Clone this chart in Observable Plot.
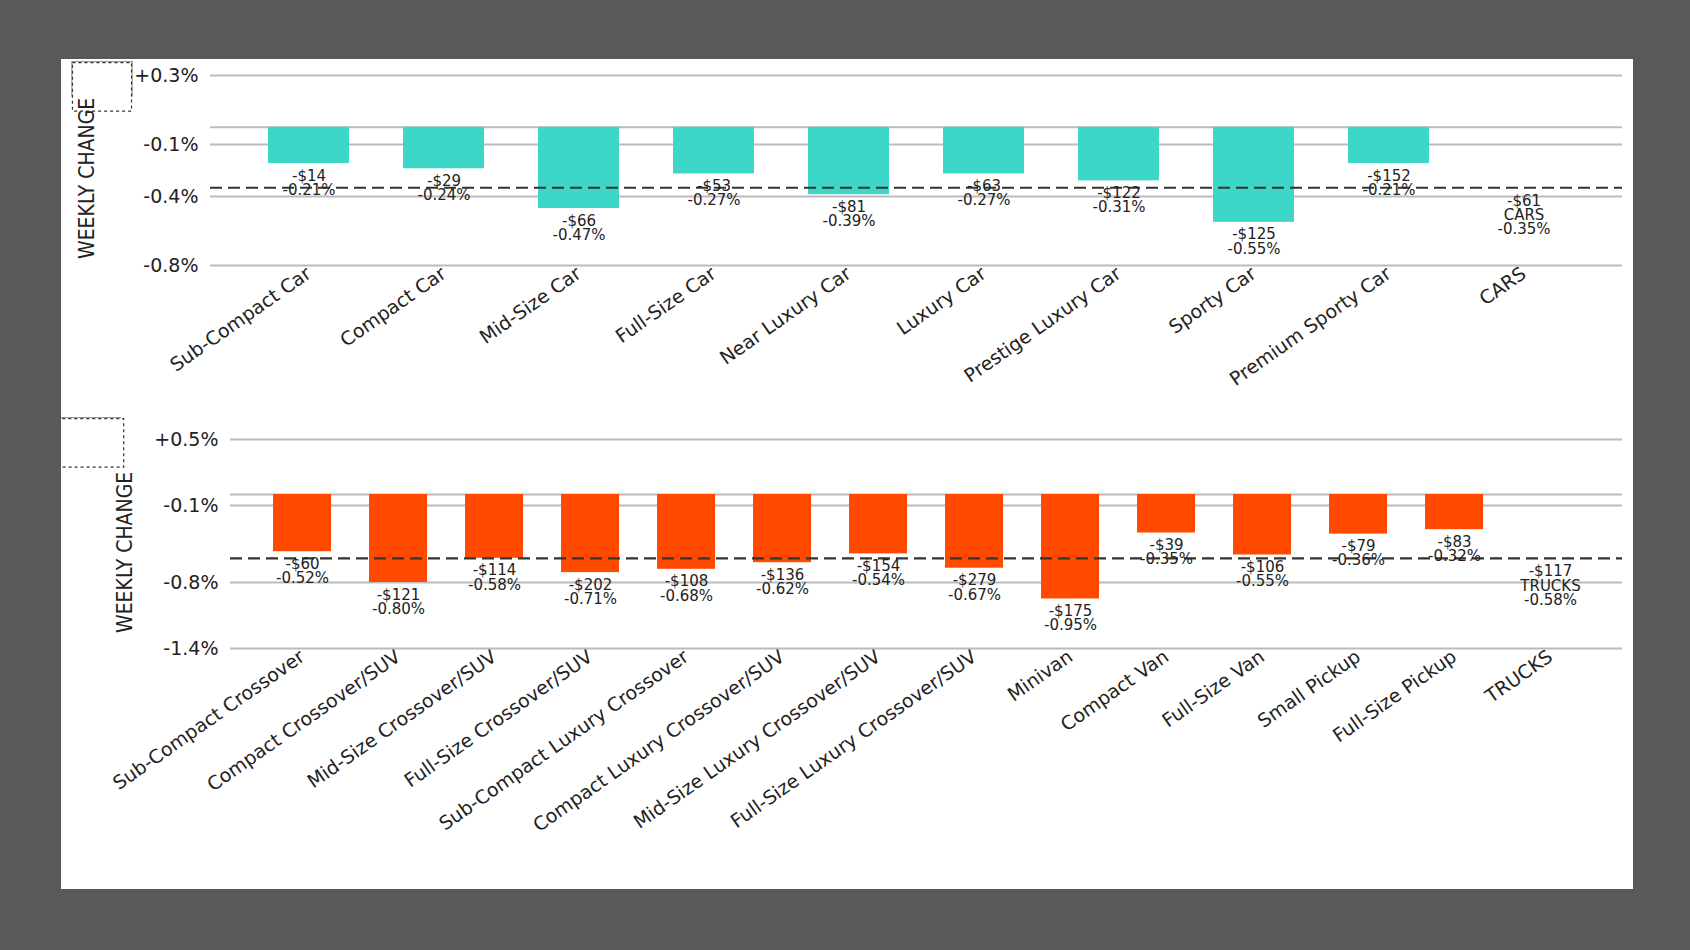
<!DOCTYPE html>
<html><head><meta charset="utf-8">
<script src="https://cdn.jsdelivr.net/npm/d3@7"></script>
<script src="https://cdn.jsdelivr.net/npm/@observablehq/plot@0.6"></script>
<style>
body{margin:0;background:#595959;width:1690px;height:950px;overflow:hidden}
#panel{position:absolute;left:61px;top:59px;width:1572px;height:830px;background:#fff}
svg{display:block}
</style></head><body><div id="panel"></div>
<script>
const carCats=["Sub-Compact Car","Compact Car","Mid-Size Car","Full-Size Car","Near Luxury Car","Luxury Car","Prestige Luxury Car","Sporty Car","Premium Sporty Car","CARS"];
const carPct=[-0.21,-0.24,-0.47,-0.27,-0.39,-0.27,-0.31,-0.55,-0.21,-0.35];
const carUsd=[-14,-29,-66,-53,-81,-63,-122,-125,-152,-61];
const carTicks=[0.3,-0.1,-0.4,-0.8];
const truckCats=["Sub-Compact Crossover","Compact Crossover/SUV","Mid-Size Crossover/SUV","Full-Size Crossover/SUV","Sub-Compact Luxury Crossover","Compact Luxury Crossover/SUV","Mid-Size Luxury Crossover/SUV","Full-Size Luxury Crossover/SUV","Minivan","Compact Van","Full-Size Van","Small Pickup","Full-Size Pickup","TRUCKS"];
const truckPct=[-0.52,-0.80,-0.58,-0.71,-0.68,-0.62,-0.54,-0.67,-0.95,-0.35,-0.55,-0.36,-0.32,-0.58];
const truckUsd=[-60,-121,-114,-202,-108,-136,-154,-279,-175,-39,-106,-79,-83,-117];
const truckTicks=[0.5,-0.1,-0.8,-1.4];

const font="'DejaVu Sans',sans-serif";
const fmtPct=v=>(v>0?"+":"")+v.toFixed(1)+"%";

function chart(cats,pct,usd,ticks,domain,color,total,opt){
  const n=cats.length;
  const rows=cats.map((c,i)=>({c,p:pct[i],u:usd[i],t:i===n-1}));
  const bars=rows.filter(d=>!d.t), tot=rows.filter(d=>d.t);
  const p=Plot.plot({
    width:1572,height:opt.height,marginTop:opt.mt,marginLeft:opt.ml,marginRight:11,marginBottom:opt.mb,
    style:{fontFamily:font,fontSize:"19px",color:"#222",background:"transparent"},
    x:{domain:cats,padding:0.4,label:null,tickRotate:-35,tickSize:0,tickPadding:6},
    y:{domain,ticks,tickFormat:fmtPct,tickSize:0,tickPadding:12,label:null},
    marks:[
      Plot.ruleY([...ticks,0],{stroke:"#bbb",strokeWidth:2}),
      Plot.barY(bars,{x:"c",y1:0,y2:"p",fill:color}),
      Plot.ruleY([tot[0].p],{stroke:"#333",strokeWidth:2.2,strokeDasharray:"12,6"}),
      Plot.text(bars,{x:"c",y:"p",text:d=>"-$"+Math.abs(d.u)+"\n"+d.p.toFixed(2)+"%",lineAnchor:"top",dy:7,fontSize:15,lineHeight:0.95,fill:"#222",ariaLabel:()=>"barlabel"}),
      Plot.text(tot,{x:"c",y:"p",text:d=>"-$"+Math.abs(d.u)+"\n"+total+"\n"+d.p.toFixed(2)+"%",lineAnchor:"top",dy:8,fontSize:15,lineHeight:0.95,fill:"#222",ariaLabel:()=>"totlabel"})
    ]
  });
  const wrap=document.createElement("div");wrap.style.position="relative";
  wrap.appendChild(p);document.getElementById("panel").appendChild(wrap);
  const s=d3.select(p);
  [["barlabel","#999",null],["totlabel","#333","3,3"]].forEach(([lab,st,da])=>{
    s.selectAll(`text[aria-label="${lab}"]`).each(function(){
      const b=this.getBBox();
      d3.select(this.parentNode).insert("rect",()=>this)
        .attr("x",b.x-3).attr("y",b.y-1).attr("width",b.width+6).attr("height",b.height+2)
        .attr("fill","#fff").attr("stroke",st).attr("stroke-width",1.2).attr("stroke-dasharray",da);
    });
  });
  const lbl=document.createElement("div");
  lbl.textContent="WEEKLY CHANGE";
  Object.assign(lbl.style,{position:"absolute",left:opt.lx+"px",top:opt.ly+"px",transform:"rotate(-90deg)",transformOrigin:"left top",fontFamily:"'DejaVu Sans Condensed','DejaVu Sans',sans-serif",fontSize:"21px",color:"#222",whiteSpace:"nowrap"});
  wrap.appendChild(lbl);
}
chart(carCats,carPct,carUsd,carTicks,[-0.8,0.3],"#3dd6c8","CARS",{height:356,mt:16,ml:149,mb:150,lx:14,ly:200});
chart(truckCats,truckPct,truckUsd,truckTicks,[-1.4,0.5],"#ff4a00","TRUCKS",{height:465,mt:24,ml:169,mb:232,lx:52,ly:218});
</script></body></html>
